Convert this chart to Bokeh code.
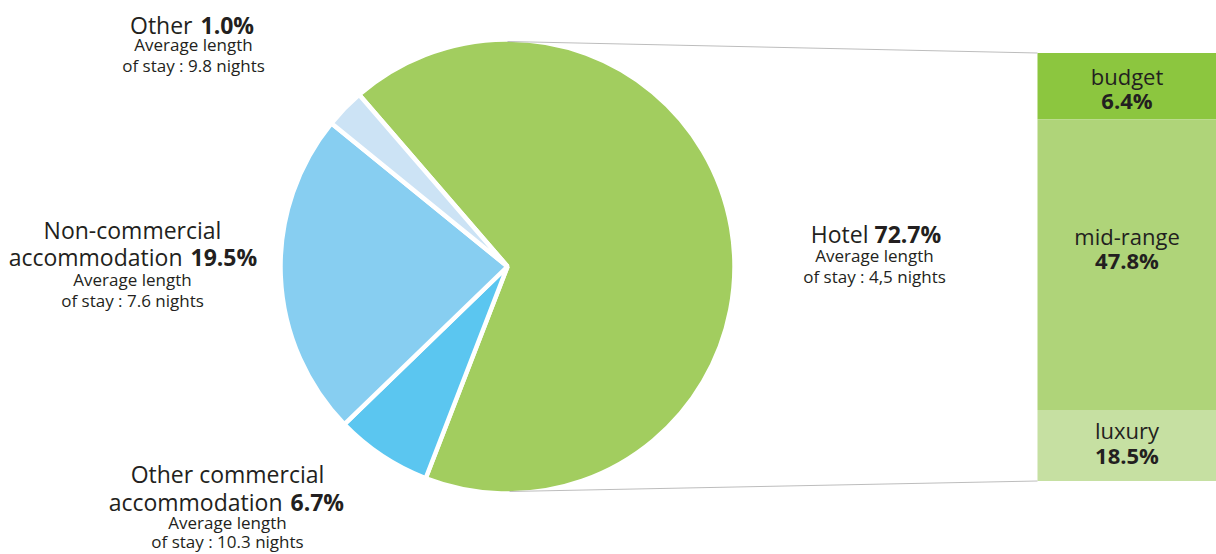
from bokeh.plotting import figure
from bokeh.models import Range1d
from bokeh.core.properties import value
from bokeh.embed import file_html
from bokeh.resources import INLINE
import numpy as np

# ---------------- data ----------------
categories = ["Hotel", "Other commercial accommodation", "Non-commercial accommodation", "Other"]
category_pct = ["72.7%", "6.7%", "19.5%", "1.0%"]
slice_share = [67.2, 6.9, 23.1, 2.8]          # drawn slice sizes
stay_nights = ["4,5", "10.3", "7.6", "9.8"]
slice_colors = ["#a2cd5f", "#5bc6f0", "#87cef1", "#cce3f5"]

hotel_types = ["budget", "mid-range", "luxury"]
hotel_pct = ["6.4%", "47.8%", "18.5%"]
bar_share = [15.5, 67.9, 16.6]                # drawn bar heights
bar_colors = ["#8cc63f", "#afd479", "#c6e0a2"]

W, H = 1216, 554
FONT = value("Open Sans")
TXT = "#231f20"

p = figure(width=W, height=H, x_range=Range1d(0, W), y_range=Range1d(0, H),
           output_backend="svg", toolbar_location=None,
           x_axis_location=None, y_axis_location=None,
           min_border=0, outline_line_color=None)
p.grid.visible = False
p.background_fill_color = "white"
p.border_fill_color = "white"

def Y(ys):
    return H - ys

# ---------------- pie ----------------
cx, cy, r = 507, Y(266), 227
start0 = 130.8  # degrees (math convention), going clockwise
shares = np.array(slice_share)
cum = np.concatenate([[0], np.cumsum(shares)[:-1]])
starts = np.radians(start0 - cum * 3.6)
ends = np.radians(start0 - (cum + shares) * 3.6)
p.wedge(x=cx, y=cy, radius=r, start_angle=starts, end_angle=ends, direction="clock",
        fill_color=slice_colors, line_color="white", line_width=4.5)

# ---------------- bar ----------------
bx0, bx1 = 1037, 1216
btop, btot = 52.5, 428.0
bs = np.array(bar_share)
bcum = np.concatenate([[0], np.cumsum(bs)])
tops = btop + bcum[:-1] / bs.sum() * btot
bots = btop + bcum[1:] / bs.sum() * btot
p.quad(left=bx0, right=bx1, top=Y(tops), bottom=Y(bots), fill_color=bar_colors, line_color=None)

# connecting lines
p.segment(x0=[cx, cx + 2], y0=[cy + 225, cy - 225], x1=[bx0, bx0], y1=[Y(btop), Y(btop + btot)],
          line_color="#bdbdbd", line_width=1)

# ---------------- texts ----------------
DY = 9  # baseline correction

def txt(x, y, s, size, bold=False, align="center"):
    p.text(x=[x], y=[Y(y - DY)], text=[s], text_font=FONT, text_font_size=f"{size}px",
           text_font_style="bold" if bold else "normal", text_color=TXT,
           text_align=align, text_baseline="alphabetic")

MAIN, SUB, BAR = 23, 17, 22

# Other
txt(192, 33, "Other", MAIN, align="right")
txt(200, 33, category_pct[3], MAIN, bold=True, align="left")
txt(193, 53, "Average length", SUB)
txt(193, 74, f"of stay : {stay_nights[3]} nights", SUB)

# Non-commercial
txt(132, 238, "Non-commercial", MAIN)
txt(182, 265, "accommodation", MAIN, align="right")
txt(190, 265, category_pct[2], MAIN, bold=True, align="left")
txt(132, 288, "Average length", SUB)
txt(132, 309, f"of stay : {stay_nights[2]} nights", SUB)

# Other commercial
txt(227, 482, "Other commercial", MAIN)
txt(282, 510, "accommodation", MAIN, align="right")
txt(290, 510, category_pct[1], MAIN, bold=True, align="left")
txt(227, 531, "Average length", SUB)
txt(227, 550, f"of stay : {stay_nights[1]} nights", SUB)

# Hotel
txt(868, 242, "Hotel", MAIN, align="right")
txt(874, 242, category_pct[0], MAIN, bold=True, align="left")
txt(874, 264, "Average length", SUB)
txt(874, 285, f"of stay : {stay_nights[0]} nights", SUB)

# bar labels
bcx = (bx0 + bx1) / 2
name_base = [84, 244, 438]
pct_base = [108, 268, 463]
for n, pc, yb, yp in zip(hotel_types, hotel_pct, name_base, pct_base):
    txt(bcx, yb, n, BAR)
    txt(bcx, yp, pc, BAR, bold=True)

open("out.html", "w").write(file_html(p, INLINE))
